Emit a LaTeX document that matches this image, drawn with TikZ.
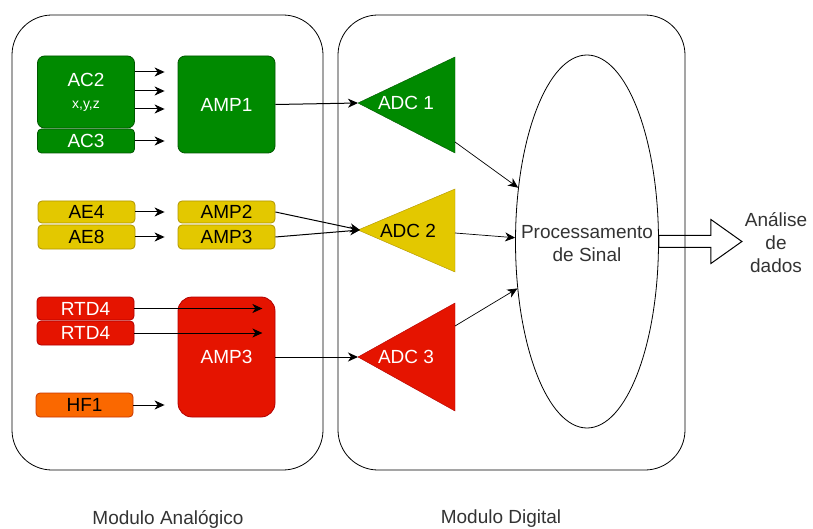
\documentclass[tikz,border=0pt]{standalone}
\usepackage{fontspec}
\setmainfont{Liberation Sans}
\usepackage{xcolor}
\usetikzlibrary{arrows.meta,positioning,shapes.geometric}
\definecolor{gfill}{HTML}{008A00}\definecolor{gline}{HTML}{005700}
\definecolor{yfill}{HTML}{E3C800}\definecolor{yline}{HTML}{B09500}
\definecolor{rfill}{HTML}{E51400}\definecolor{rline}{HTML}{B20000}
\definecolor{ofill}{HTML}{FA6800}\definecolor{oline}{HTML}{C73500}
\newcommand{\fsz}{\fontsize{19}{23}\selectfont}
\begin{document}
\begin{tikzpicture}[x=1pt,y=-1pt,
  n/.style={draw,line width=0.8pt,rounded corners=7pt,minimum width=97pt,inner sep=0pt,font=\fsz,align=center},
  g/.style={n,fill=gfill,draw=gline,text=white},
  yl/.style={n,fill=yfill,draw=yline,text=black,rounded corners=4pt},
  rd/.style={n,fill=rfill,draw=rline,text=white},
  ar/.style={-{Stealth[length=10pt,width=9pt,inset=3pt]},line width=1pt},
  lbl/.style={font=\fsz,align=center}]
\useasboundingbox (0,0) rectangle (813,529);
\draw[line width=0.8pt,rounded corners=40pt] (12,15) rectangle (323,470);
\draw[line width=0.8pt,rounded corners=40pt] (338,15) rectangle (685,470);
\node[g,minimum height=72pt] (ac2) at (86,92) {AC2\\[-1pt]{\fontsize{14}{16}\selectfont x,y,z}};
\node[g,minimum height=24pt,rounded corners=4pt] (ac3) at (86,141) {AC3};
\node[g,minimum height=97pt] (amp1) at (226.5,104.5) {AMP1};
\node[yl,minimum height=22pt] (ae4) at (86.5,212) {AE4};
\node[yl,minimum height=24pt] (ae8) at (86.5,237) {AE8};
\node[yl,minimum height=22pt] (amp2) at (226.5,212) {AMP2};
\node[yl,minimum height=24pt] (amp3y) at (226.5,237) {AMP3};
\node[rd,minimum height=23pt,rounded corners=4pt] (rtd4a) at (85.5,308.5) {RTD4};
\node[rd,minimum height=24pt,rounded corners=4pt] (rtd4b) at (85.5,333) {RTD4};
\node[n,fill=ofill,draw=oline,minimum height=24pt,rounded corners=4pt] (hf1) at (84.5,405) {HF1};
\node[rd,minimum height=120pt,rounded corners=14pt] (amp3) at (226.5,357) {AMP3};
\foreach \d in {20,1,-17}
  \draw[ar,shorten >=13pt] ([yshift=\d pt]ac2.east) -- ([yshift=\d pt]ac2.east -| amp1.west);
\draw[ar,shorten >=13pt] (ac3.east) -- (ac3.east -| amp1.west);
\draw[ar,shorten >=13pt] (ae4.east) -- (amp2.west);
\draw[ar,shorten >=13pt] (ae8.east) -- (amp3y.west);
\foreach \r in {rtd4a,rtd4b}
  \draw[ar,shorten >=13pt] (\r.east) -- (\r.east -| amp3.east);
\draw[ar,shorten >=13pt] (hf1.east) -- (hf1.east -| amp3.west);
\filldraw[fill=gfill,draw=gline] (358,103) -- (455,57) -- (455,153) -- cycle;
\filldraw[fill=yfill,draw=yline] (358,230) -- (455,189) -- (455,272) -- cycle;
\filldraw[fill=rfill,draw=rline] (358,357) -- (455,303) -- (455,411) -- cycle;
\node[lbl,text=white] (adc1) at (406,103) {ADC 1};
\node[lbl,text=black] (adc2) at (408,231) {ADC 2};
\node[lbl,text=white] (adc3) at (406,357) {ADC 3};
\coordinate (adc1in) at (358,103); \coordinate (adc1out) at (455,142);
\coordinate (adc2in) at (360,230); \coordinate (adc2out) at (455,233);
\coordinate (adc3in) at (358,357); \coordinate (adc3out) at (455,326);
\node[draw,ellipse,line width=0.8pt,minimum width=143pt,minimum height=373pt,inner sep=0pt] (proc) at (587,241.5) {};
\node[lbl,text=black!80] (proctxt) at ([yshift=-2pt]proc) {Processamento\\de Sinal};
\draw[ar] (amp1.east) -- (adc1in);
\draw[ar] (amp2.east) -- (adc2in);
\draw[ar] (amp3y.east) -- (adc2in);
\draw[ar] (amp3.east) -- (adc3in);
\draw[ar,line width=0.7pt] (adc1out) -- (proc.142);
\draw[ar,line width=0.7pt] (adc2out) -- (proc.177);
\draw[ar,line width=0.7pt] (adc3out) -- (proc.214);
\node[lbl,text=black!80] (ana) at (776,243) {Análise\\de\\dados};
\draw[line width=1pt] ([yshift=6pt]proc.east) -- ++(52,0) -- ++(0,-16) -- ++(31,22) -- ++(-31,22) -- ++(0,-16) -- ++(-52,0) -- cycle;
\node[lbl,text=black!80] (modana) at (168,519) {Modulo Analógico};
\node[lbl,text=black!80] (moddig) at (501,519) {Modulo Digital};
\end{tikzpicture}
\end{document}
